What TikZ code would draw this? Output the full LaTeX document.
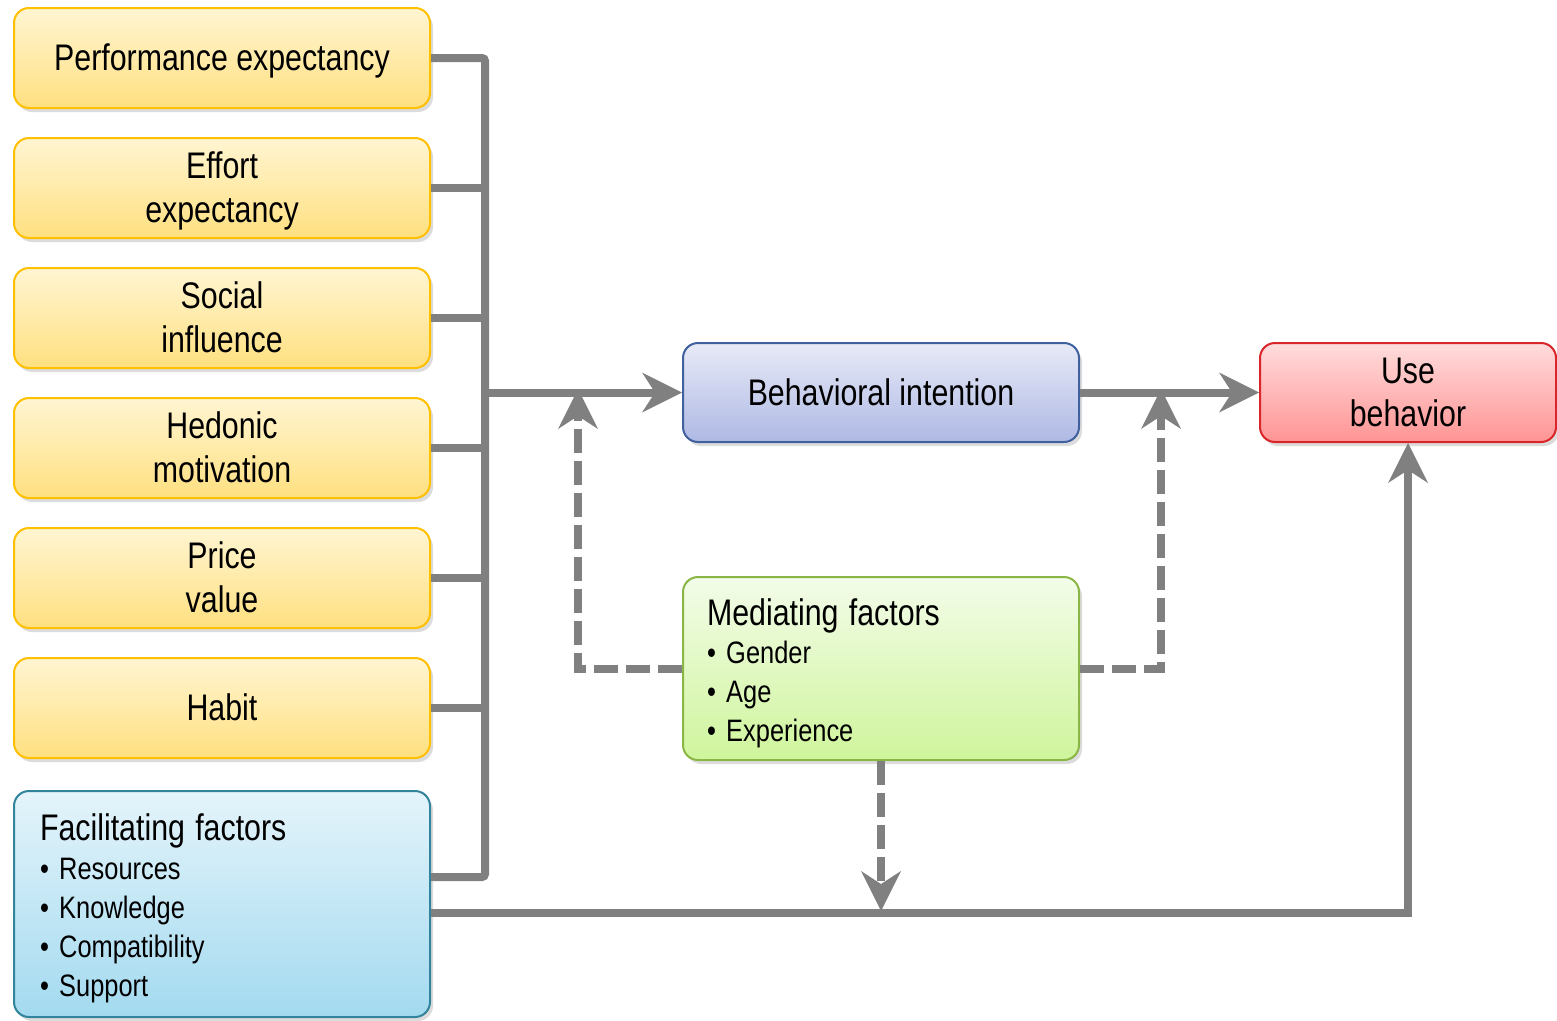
\documentclass[tikz,border=0pt]{standalone}
\usepackage{fontspec}
\setmainfont{Liberation Sans}[FakeStretch=0.82]
\usetikzlibrary{arrows.meta,shadows,calc}

\definecolor{ybord}{HTML}{FFC000}
\definecolor{ytop}{HTML}{FFF5D2}
\definecolor{ybot}{HTML}{FFE080}
\definecolor{bbord}{HTML}{41609E}
\definecolor{btop}{HTML}{E8EAF7}
\definecolor{bbot}{HTML}{AEB9E4}
\definecolor{rbord}{HTML}{D9262B}
\definecolor{rtop}{HTML}{FFDCDC}
\definecolor{rbot}{HTML}{FF9494}
\definecolor{gbord}{HTML}{8AB646}
\definecolor{gtop}{HTML}{F3FCE9}
\definecolor{gbot}{HTML}{CFF59C}
\definecolor{cbord}{HTML}{31849B}
\definecolor{ctop}{HTML}{E4F4FB}
\definecolor{cbot}{HTML}{A3DAEF}
\definecolor{cgray}{HTML}{808080}

% fonts and line struts (fixed line boxes, independent of the glyphs)
\newcommand\boxfont{\fontsize{37}{43.4}\selectfont}
\newcommand\titlefont{\fontsize{37}{38.7}\selectfont}
\newcommand\listfont{\fontsize{31}{38.7}\selectfont}
\newcommand\cs{\rule[-8pt]{0pt}{41pt}}
\newcommand\ts{\rule[-7.8pt]{0pt}{43.8pt}}
\newcommand\ls{\rule[-6.6pt]{0pt}{37.1pt}}

\tikzset{
  softshadow/.style={drop shadow={shadow xshift=3pt,shadow yshift=-4pt,opacity=.3,fill=black!45}},
  box/.style={rounded corners=15pt, line width=2pt, inner sep=0pt, align=center,
    font=\boxfont, softshadow},
  factor/.style={box, draw=ybord, top color=ytop, bottom color=ybot,
    minimum width=416pt, minimum height=100pt},
  listbox/.style={align=left, font=\listfont},
  conn/.style={draw=cgray, line width=8pt},
  tip/.style={-{Stealth[length=40pt,width=40pt,inset=13pt,line width=0pt]}},
  dashline/.style={dash pattern=on 24pt off 8pt},
}

\begin{document}
\begin{tikzpicture}[x=1pt,y=-1pt]
\useasboundingbox (0,0) rectangle (1557,1020);

% determinants
\node[factor] (pe) at (222,58)  {\cs Performance expectancy};
\node[factor] (ee) at (222,188) {\cs Effort\\\cs expectancy};
\node[factor] (si) at (222,318) {\cs Social\\\cs influence};
\node[factor] (hm) at (222,448) {\cs Hedonic\\\cs motivation};
\node[factor] (pv) at (222,578) {\cs Price\\\cs value};
\node[factor] (hb) at (222,708) {\cs Habit};

\node[box, listbox, draw=cbord, top color=ctop, bottom color=cbot,
      minimum width=416pt, minimum height=226pt, text width=364pt,
      font=\fontsize{31}{39}\selectfont] (ff) at (222,904)
  {\ts{\titlefont Facilitating factors}\\\ls• Resources\\\ls• Knowledge\\\ls• Compatibility\\\ls• Support};

% intention and use
\node[box, draw=bbord, top color=btop, bottom color=bbot,
      minimum width=396pt, minimum height=99pt] (bi) at (881,392.5) {\cs Behavioral intention};
\node[box, draw=rbord, top color=rtop, bottom color=rbot,
      minimum width=296pt, minimum height=99pt] (ub) at (1408,392.5) {\cs Use\\\cs behavior};

% moderators
\node[box, listbox, draw=gbord, top color=gtop, bottom color=gbot,
      minimum width=396pt, minimum height=183pt, text width=348pt] (mf) at (881,668.5)
  {\ts{\titlefont Mediating factors}\\\ls• Gender\\\ls• Age\\\ls• Experience};

% junction points
\coordinate (bus) at (485,0);
\coordinate (busend) at (485,877);
\coordinate (jl) at (578,393);
\coordinate (jr) at (1161,393);
\coordinate (low) at (0,913);

% collecting bus
\draw[conn, rounded corners=3pt] (pe.east) -| (busend) -- (ff.east |- busend);
\foreach \n in {ee,si,hm,pv,hb}
  \draw[conn] (\n.east) -- (\n.east -| bus);

\draw[conn, tip] (bus |- bi.west) -- (bi.west);
\draw[conn, tip] (bi.east) -- (ub.west);
\draw[conn, tip] (ff.east |- low) -| (ub.south);

% moderating effects
\draw[conn, dashline, tip, shorten >=-4pt] (mf.west) -| (jl);
\draw[conn, dashline, tip, shorten >=-4pt] (mf.east) -| (jr);
\draw[conn, dashline, tip, shorten >=2pt] (mf.south) -- (mf.south |- low);
\end{tikzpicture}
\end{document}
